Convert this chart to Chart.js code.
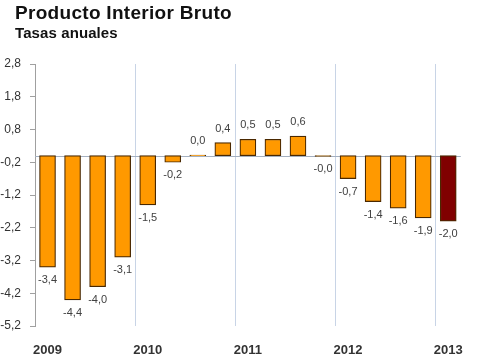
<!DOCTYPE html>
<html>
<head>
<meta charset="utf-8">
<script src="https://cdn.jsdelivr.net/npm/chart.js@4.4.1/dist/chart.umd.min.js"></script>
<style>
  body { margin: 0; background: #fff; }
  #wrap { position: relative; width: 480px; height: 358px; }
  canvas { display: block; }
  #title { position: absolute; left: 15px; top: 2px; font: bold 19px "Liberation Sans", Arial, sans-serif; letter-spacing: 0.3px; color: #111; }
  #subtitle { position: absolute; left: 15px; top: 24px; font: bold 15px "Liberation Sans", Arial, sans-serif; letter-spacing: 0.1px; color: #111; }
</style>
</head>
<body>
<div id="wrap">
  <canvas id="chart" width="480" height="358"></canvas>
  <div id="title">Producto Interior Bruto</div>
  <div id="subtitle">Tasas anuales</div>
</div>
<script>
// quarters 2009 Q1 .. 2013 Q1
const quarters = ['2009-I','2009-II','2009-III','2009-IV','2010-I','2010-II','2010-III','2010-IV',
                  '2011-I','2011-II','2011-III','2011-IV','2012-I','2012-II','2012-III','2012-IV','2013-I'];
const yearLabels = ['2009','','','','2010','','','','2011','','','','2012','','','','2013'];
const pibValues = [-3.4, -4.4, -4.0, -3.1, -1.5, -0.2, 0.02, 0.4, 0.5, 0.5, 0.6, -0.02, -0.7, -1.4, -1.6, -1.9, -2.0];
const yTicks = [-5.2, -4.2, -3.2, -2.2, -1.2, -0.2, 0.8, 1.8, 2.8];

const fmt = v => v.toFixed(1).replace('.', ',');

const barColors = pibValues.map((v, i) => i === pibValues.length - 1 ? '#800000' : '#FF9900');

// horizontal line at zero
const zeroLine = {
    id: 'zeroLine',
    beforeDatasetsDraw(chart) {
        const y = chart.scales.y.getPixelForValue(0);
        const area = chart.chartArea;
        const ctx = chart.ctx;
        ctx.save();
        ctx.strokeStyle = '#a4b0c0';
        ctx.lineWidth = 1;
        ctx.beginPath();
        ctx.moveTo(area.left, Math.round(y) + 0.5);
        ctx.lineTo(area.right, Math.round(y) + 0.5);
        ctx.stroke();
        ctx.restore();
    }
};

// value labels above / below bars
const valueLabels = {
    id: 'valueLabels',
    afterDatasetsDraw(chart) {
        const ctx = chart.ctx;
        const meta = chart.getDatasetMeta(0);
        ctx.save();
        ctx.font = '11px "Liberation Sans", Arial, sans-serif';
        ctx.fillStyle = '#404040';
        ctx.textAlign = 'center';
        ctx.textBaseline = 'middle';
        meta.data.forEach((bar, i) => {
            const v = pibValues[i];
            const y = v >= 0 ? bar.y - 14 : bar.y + 13;
            ctx.fillText(fmt(v), bar.x, y);
        });
        ctx.restore();
    }
};

new Chart(document.getElementById('chart'), {
    type: 'bar',
    data: {
        labels: quarters,
        datasets: [{
            data: pibValues,
            backgroundColor: barColors,
            borderColor: '#4a2800',
            borderWidth: 1.2,
            borderSkipped: false,
            barThickness: 16
        }]
    },
    options: {
        responsive: false,
        animation: false,
        layout: { padding: { top: 64, right: 10, left: 0, bottom: 0 } },
        plugins: { legend: { display: false }, tooltip: { enabled: false } },
        scales: {
            x: {
                afterFit: s => { s.height = 32; },
                grid: {
                    offset: true,
                    drawTicks: false,
                    color: c => (c.index > 0 && c.index % 4 === 0) ? '#c8d4e6' : 'rgba(0,0,0,0)'
                },
                border: { display: false },
                ticks: {
                    autoSkip: false,
                    maxRotation: 0,
                    padding: 17,
                    color: '#333',
                    font: { family: '"Liberation Sans", Arial, sans-serif', size: 13, weight: 'bold' },
                    callback: (v, i) => yearLabels[i]
                }
            },
            y: {
                min: -5.2,
                max: 2.8,
                afterBuildTicks: s => { s.ticks = yTicks.map(v => ({ value: v })); },
                afterFit: s => { s.width = 35; },
                grid: { drawOnChartArea: false, tickLength: 5, color: '#a0a0a0' },
                border: { display: true, color: '#a0a0a0' },
                ticks: {
                    padding: 9,
                    color: '#333',
                    font: { family: '"Liberation Sans", Arial, sans-serif', size: 12 },
                    callback: v => fmt(v)
                }
            }
        }
    },
    plugins: [zeroLine, valueLabels]
});
</script>
</body>
</html>
